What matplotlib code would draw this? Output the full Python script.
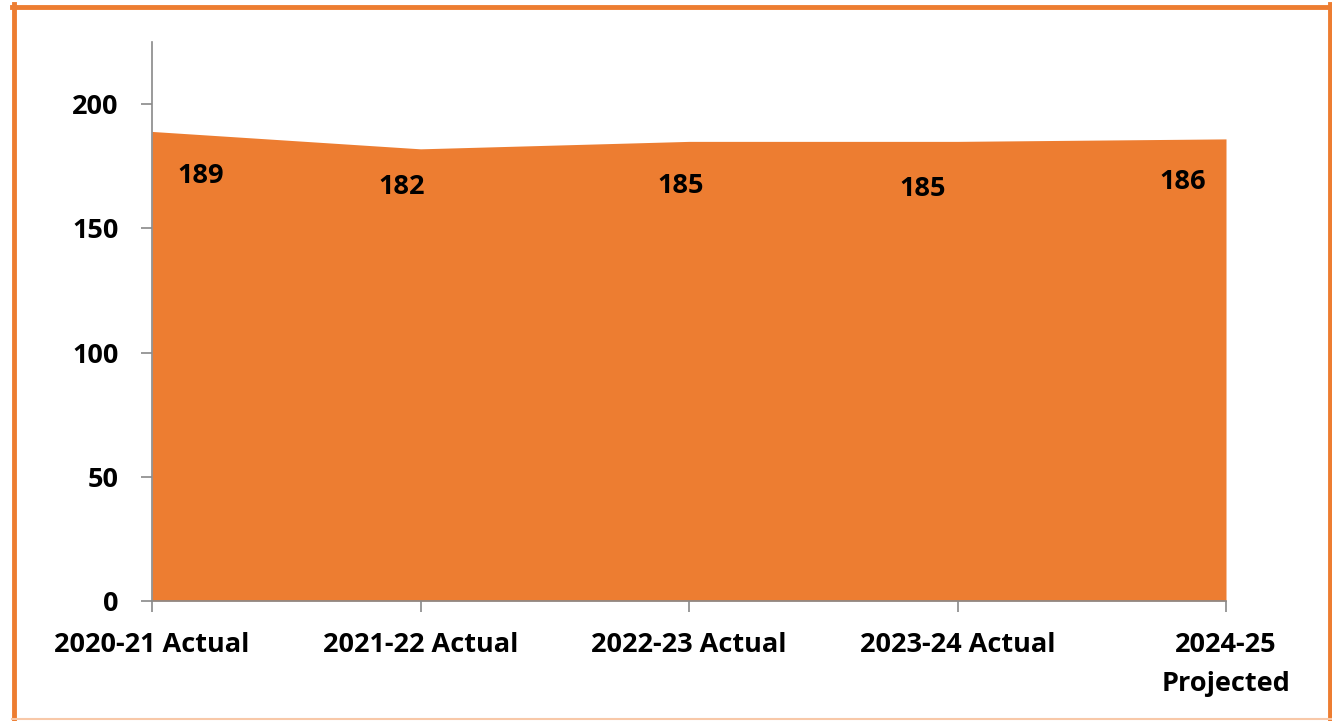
import matplotlib
matplotlib.use("Agg")
import matplotlib.pyplot as plt
from matplotlib.lines import Line2D

categories = ["2020-21 Actual", "2021-22 Actual", "2022-23 Actual", "2023-24 Actual", "2024-25\nProjected"]
values = [189, 182, 185, 185, 186]
yticks = [0, 50, 100, 150, 200]

# label anchor positions (category units, value units) as drawn in the reference
label_x = [0.18, 0.93, 1.97, 2.87, 3.84]
label_y = [171, 166.5, 167, 165.7, 168.5]

ORANGE = "#ED7D31"
GRAY = "#898989"
plt.rcParams['font.family'] = ['Open Sans', 'DejaVu Sans']

fig = plt.figure(figsize=(13.32, 7.21), dpi=100)
ax = fig.add_axes([152/1332, 1-601/721, (1226-152)/1332, (601-42)/721])

x = list(range(len(categories)))
ax.fill_between(x, 0, values, color=ORANGE, linewidth=0)

for lx, ly, v in zip(label_x, label_y, values):
    ax.text(lx, ly, str(v), ha="center", va="center", fontsize=19.5, fontweight="bold", color="black")

ax.set_xlim(0, 4)
ax.set_ylim(0, 225)
ax.set_yticks(yticks)
ax.set_xticks(x)
ax.set_xticklabels(categories, fontsize=19.5, fontweight="bold", linespacing=1.68)
for t in ax.get_yticklabels():
    t.set_fontsize(19.5)
    t.set_fontweight("bold")
ax.tick_params(axis="both", colors=GRAY, labelcolor="black", length=8, width=1.2)
ax.tick_params(axis="y", pad=16)
ax.tick_params(axis="x", pad=14)
for s in ["top", "right"]:
    ax.spines[s].set_visible(False)
for s in ["left", "bottom"]:
    ax.spines[s].set_color(GRAY)
    ax.spines[s].set_linewidth(1.2)

# frame around the figure
fig.add_artist(Line2D([14/1332, 14/1332], [0, 1-4/721], color=ORANGE, lw=3.5, transform=fig.transFigure))
fig.add_artist(Line2D([12/1332, 1], [1-6.5/721, 1-6.5/721], color=ORANGE, lw=3.5, transform=fig.transFigure))
fig.add_artist(Line2D([1330/1332, 1330/1332], [0, 1-4/721], color=ORANGE, lw=3.5, transform=fig.transFigure))
fig.add_artist(Line2D([12/1332, 1], [2/721, 2/721], color="#F8C8A8", lw=1.5, transform=fig.transFigure))

fig.savefig("out.png", dpi=100)
